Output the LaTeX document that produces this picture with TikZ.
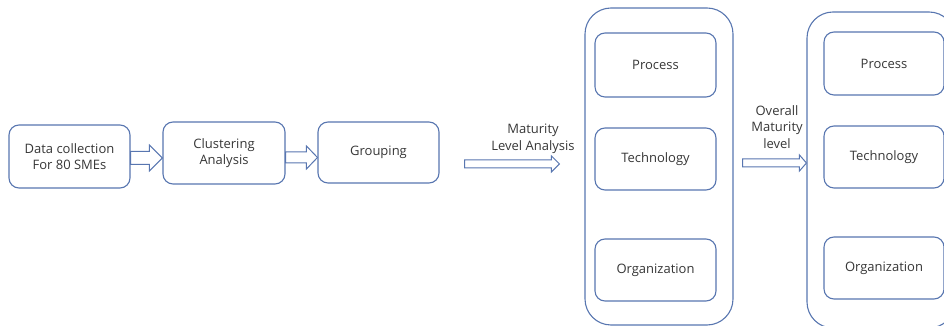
\documentclass[tikz,border=0pt]{standalone}
\usepackage{fontspec}
\setmainfont{Open Sans}
\usetikzlibrary{calc}
\definecolor{edge}{RGB}{88,118,176}
\definecolor{ink}{RGB}{55,55,55}
\tikzset{
  box/.style={draw=edge, line width=1.1pt, rounded corners=10pt, fill=white,
    text=ink, align=center, inner sep=0pt, font=\fontsize{13}{16.5}\selectfont},
  panel/.style={draw=edge, line width=1.1pt, rounded corners=26pt, inner sep=0pt},
  fat/.style={draw=edge, line width=1pt, fill=white},
  lbl/.style={text=ink, align=center, inner sep=0pt, font=\fontsize{13}{16.5}\selectfont}
}
% hollow block arrow: #1 start, #2 end, #3 half shaft, #4 half head, #5 head length
\newcommand\fatarrow[5]{%
  \draw[fat] let \p1=(#1), \p2=(#2) in
    (\x1,\y1-#3pt) -- (\x2-#5pt,\y1-#3pt) -- (\x2-#5pt,\y1-#4pt) -- (\x2,\y1)
    -- (\x2-#5pt,\y1+#4pt) -- (\x2-#5pt,\y1+#3pt) -- (\x1,\y1+#3pt) -- cycle;}
\begin{document}
\begin{tikzpicture}[x=1pt,y=1pt]
\useasboundingbox (0,0) rectangle (944,326);
\clip (0,0) rectangle (944,326);

% pipeline on the left
\node[box, minimum width=121pt, minimum height=63pt] (data) at (69.5,169.5) {Data collection\\For 80 SMEs};
\node[box, minimum width=122pt, minimum height=62pt] (clus) at (224,173) {Clustering\\Analysis};
\node[box, minimum width=121pt, minimum height=61pt] (group) at (378.5,173.5) {Grouping};

% first maturity panel
\node[panel, minimum width=148pt, minimum height=317pt] (panelA) at (659,159.5) {};
\node[box, minimum width=121pt, minimum height=64pt] (procA) at (655.5,261) {Process};
\node[box, minimum width=121pt, minimum height=62pt] (techA) at (655.5,167) {Technology};
\node[box, minimum width=121pt, minimum height=62pt] (orgA) at (655.5,56) {Organization};

% second maturity panel
\node[panel, minimum width=148pt, minimum height=316pt] (panelB) at (881,156) {};
\node[box, minimum width=120pt, minimum height=63pt] (procB) at (884,262.5) {Process};
\node[box, minimum width=120pt, minimum height=62pt] (techB) at (884,169) {Technology};
\node[box, minimum width=120pt, minimum height=62pt] (orgB) at (884,58) {Organization};

% arrow anchor points
\coordinate (a1s) at (data.east |- 0,168);
\coordinate (a1e) at (clus.west |- 0,168);
\coordinate (a2s) at (clus.east |- 0,168.5);
\coordinate (a2e) at (group.west |- 0,168.5);
\coordinate (m1s) at ($(group.east |- 0,162)+(25,0)$);
\coordinate (m1e) at ($(panelA.west |- 0,162)+(-25,0)$);
\coordinate (m2s) at ($(panelA.east |- 0,163)+(9,0)$);
\coordinate (m2e) at (panelB.west |- 0,163);

\fatarrow{a1s}{a1e}{6.5}{13}{13}
\fatarrow{a2s}{a2e}{5.5}{11.5}{11}
\fatarrow{m1s}{m1e}{4}{8}{8}
\fatarrow{m2s}{m2e}{4}{8}{7}

\node[lbl] (mla) at (533,187) {Maturity\\Level Analysis};
\node[lbl] (oml) at (777,199) {Overall\\Maturity\\level};
\end{tikzpicture}
\end{document}
